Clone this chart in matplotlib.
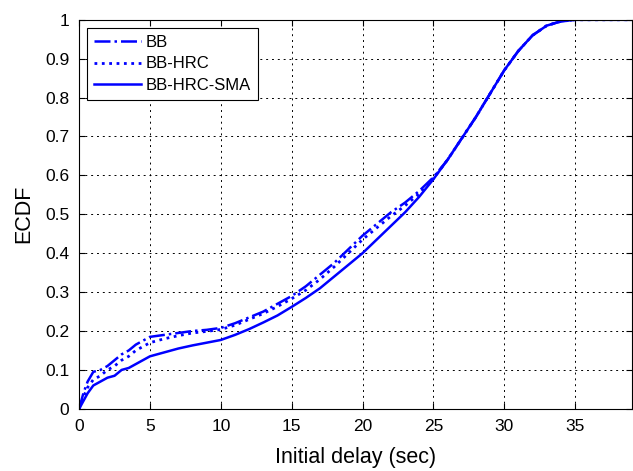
import matplotlib
matplotlib.use('Agg')
import matplotlib.pyplot as plt

plt.rcParams['font.family'] = ['Liberation Sans', 'DejaVu Sans']

# initial delay (sec) and ECDF values
delay = [0, 0.3, 0.6, 1, 1.5, 2, 2.5, 3, 3.5, 4, 4.5, 5, 6, 7, 8, 9, 10, 11, 12,
         13, 14, 15, 16, 17, 18, 19, 20, 21, 22, 23, 24, 25, 26, 27, 28, 29, 30,
         31, 32, 33, 34, 35, 36, 39]
bb = [0, 0.04, 0.07, 0.095, 0.10, 0.11, 0.125, 0.14, 0.15, 0.165, 0.175, 0.185,
      0.19, 0.195, 0.20, 0.203, 0.208, 0.22, 0.235, 0.25, 0.27, 0.29, 0.315,
      0.345, 0.375, 0.41, 0.445, 0.475, 0.505, 0.53, 0.56, 0.595, 0.64, 0.695,
      0.75, 0.81, 0.87, 0.92, 0.96, 0.985, 0.996, 1.0, 1.0, 1.0]
bb_hrc = [0, 0.03, 0.055, 0.075, 0.085, 0.10, 0.11, 0.125, 0.135, 0.15, 0.16,
          0.17, 0.18, 0.188, 0.195, 0.199, 0.204, 0.215, 0.23, 0.245, 0.263,
          0.283, 0.305, 0.333, 0.365, 0.40, 0.435, 0.465, 0.495, 0.522, 0.553,
          0.592, 0.64, 0.695, 0.75, 0.81, 0.87, 0.92, 0.96, 0.985, 0.996, 1.0,
          1.0, 1.0]
bb_hrc_sma = [0, 0.02, 0.04, 0.06, 0.07, 0.08, 0.085, 0.10, 0.105, 0.115, 0.125,
              0.135, 0.145, 0.155, 0.163, 0.17, 0.177, 0.19, 0.205, 0.222, 0.24,
              0.262, 0.285, 0.31, 0.34, 0.37, 0.40, 0.435, 0.47, 0.505, 0.545,
              0.59, 0.64, 0.695, 0.75, 0.81, 0.87, 0.92, 0.96, 0.985, 0.996, 1.0,
              1.0, 1.0]

fig = plt.figure(figsize=(6.33, 4.71), dpi=100)
ax = fig.add_axes([0.125, 0.132, 0.873, 0.826])

ax.plot(delay, bb, color='b', linestyle='-.', linewidth=1.8, label='BB')
ax.plot(delay, bb_hrc, color='b', linestyle=':', linewidth=2, label='BB-HRC')
ax.plot(delay, bb_hrc_sma, color='b', linestyle='-', linewidth=1.8, label='BB-HRC-SMA')

ax.set_xlim(0, 39)
ax.set_ylim(0, 1)
ax.set_xticks(range(0, 40, 5))
ax.set_yticks([i / 10 for i in range(11)])
ax.set_yticklabels(['0', '0.1', '0.2', '0.3', '0.4', '0.5', '0.6', '0.7', '0.8', '0.9', '1'])
ax.tick_params(direction='in', labelsize=12.5, length=4, pad=7, top=True, right=True)
ax.grid(True, color='k', linestyle=(0, (2, 4)), linewidth=0.7)
for s in ax.spines.values():
    s.set_linewidth(0.8)

ax.set_xlabel('Initial delay (sec)', fontsize=15.5, labelpad=10)
ax.set_ylabel('ECDF', fontsize=15.5, labelpad=8)

leg = ax.legend(loc='upper left', fontsize=12, fancybox=False, framealpha=1,
                edgecolor='k', handlelength=2.8, handletextpad=0.3,
                borderpad=0.4, labelspacing=0.4, borderaxespad=0.5)
leg.get_frame().set_linewidth(0.8)

fig.savefig('out.png', dpi=100)
